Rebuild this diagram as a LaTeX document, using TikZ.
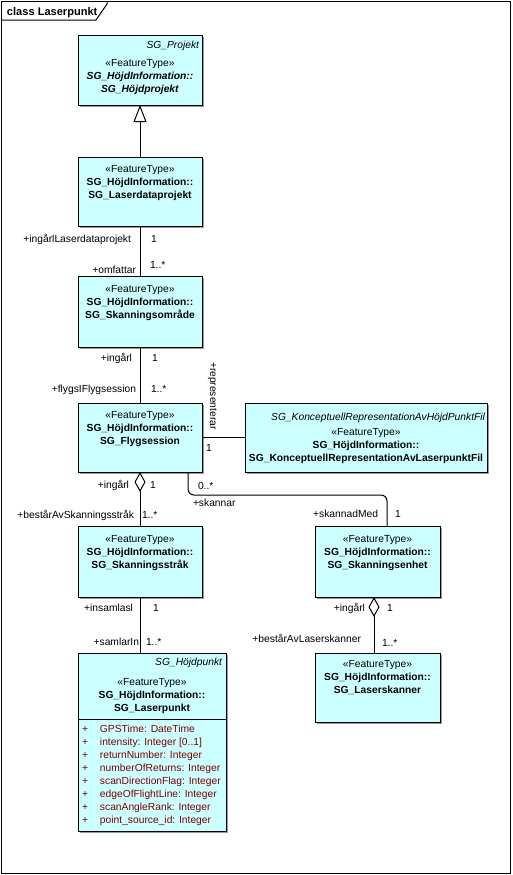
\documentclass[tikz,border=0pt]{standalone}
\usepackage{fontspec}
\setmainfont{Liberation Sans}
\usetikzlibrary{arrows.meta,fit,shadows}
\definecolor{clsfill}{RGB}{204,255,255}
\definecolor{attrcol}{RGB}{128,0,0}
\begin{document}
\begin{tikzpicture}[x=0.75pt,y=-0.75pt,
  every node/.style={font=\fontsize{7.7}{9.75}\selectfont, inner sep=0pt, outer sep=0pt},
  cls/.style={draw=black, line width=0.75pt, fill=clsfill, inner sep=0pt,
    drop shadow={shadow xshift=1.6pt, shadow yshift=-1.6pt, fill=black!40, opacity=1}},
  stereo/.style={align=center, anchor=north},
  absname/.style={anchor=base east, font=\fontsize{7.7}{9.75}\selectfont\itshape},
  lblr/.style={anchor=base east},
  lbll/.style={anchor=base west},
  conn/.style={draw=black, line width=0.75pt},
  gen/.style={-{Triangle[length=12.75pt,width=9.75pt,fill=white]}},
  agg/.style={{Diamond[length=15pt,width=8.25pt,fill=white]}-},
]
\useasboundingbox (0,0) rectangle (512,875);
\fill[white] (0,0) rectangle (512,875);
% frame
\draw[line width=0.75pt] (1,1) rectangle (510,873);
\draw[line width=0.75pt] (1,20) -- (96,20) -- (107,4) -- (107,1);
\node[lbll, font=\fontsize{8.3}{10}\selectfont\bfseries] (title) at (7,15) {class Laserpunkt};

% coordinates for boxes
\coordinate (hpA) at (78,35);   \coordinate (hpB) at (202,105);
\coordinate (ldpA) at (78,157); \coordinate (ldpB) at (202,226);
\coordinate (soA) at (78,276);  \coordinate (soB) at (202,347);
\coordinate (fsA) at (78,403);  \coordinate (fsB) at (202,472);
\coordinate (konA) at (245,403); \coordinate (konB) at (487,472);
\coordinate (strA) at (78,526); \coordinate (strB) at (202,597);
\coordinate (enhA) at (315,526); \coordinate (enhB) at (440,597);
\coordinate (lskA) at (315,653); \coordinate (lskB) at (440,722);
\coordinate (lpA) at (78,653);  \coordinate (lpB) at (226,831);

\node[cls, fit=(hpA)(hpB)] (hp) {};
\node[cls, fit=(ldpA)(ldpB)] (ldp) {};
\node[cls, fit=(soA)(soB)] (so) {};
\node[cls, fit=(fsA)(fsB)] (fs) {};
\node[cls, fit=(konA)(konB)] (kon) {};
\node[cls, fit=(strA)(strB)] (str) {};
\node[cls, fit=(enhA)(enhB)] (enh) {};
\node[cls, fit=(lskA)(lskB)] (lsk) {};
\node[cls, fit=(lpA)(lpB)] (lp) {};

% box texts
\node[absname] (hpabs) at (199,48.5) {SG\_Projekt};
\node[stereo] (hptxt) at (140,59) {«FeatureType»\\\textbf{\textit{SG\_HöjdInformation::}}\\\textbf{\textit{SG\_Höjdprojekt}}};
\node[stereo] (ldptxt) at (140,165) {«FeatureType»\\\textbf{SG\_HöjdInformation::}\\\textbf{SG\_Laserdataprojekt}};
\node[stereo] (sotxt) at (140,285.5) {«FeatureType»\\\textbf{SG\_HöjdInformation::}\\\textbf{SG\_Skanningsområde}};
\node[stereo] (fstxt) at (140,411) {«FeatureType»\\\textbf{SG\_HöjdInformation::}\\\textbf{SG\_Flygsession}};
\node[absname] (konabs) at (485,420.5) {SG\_KonceptuellRepresentationAvHöjdPunktFil};
\node[stereo] (kontxt) at (366,428) {«FeatureType»\\\textbf{SG\_HöjdInformation::}\\\textbf{SG\_KonceptuellRepresentationAvLaserpunktFil}};
\node[stereo] (strtxt) at (140,535) {«FeatureType»\\\textbf{SG\_HöjdInformation::}\\\textbf{SG\_Skanningsstråk}};
\node[stereo] (enhtxt) at (377.5,535) {«FeatureType»\\\textbf{SG\_HöjdInformation::}\\\textbf{SG\_Skanningsenhet}};
\node[stereo] (lsktxt) at (377.5,660) {«FeatureType»\\\textbf{SG\_HöjdInformation::}\\\textbf{SG\_Laserskanner}};
\node[absname] (lpabs) at (222,665.5) {SG\_Höjdpunkt};
\node[stereo] (lptxt) at (152,678) {«FeatureType»\\\textbf{SG\_HöjdInformation::}\\\textbf{SG\_Laserpunkt}};
\coordinate (divy) at (0,719);
\draw[line width=0.75pt] (lp.west |- divy) -- (lp.east |- divy);
\node[anchor=north west, align=left, text=attrcol] (lpattr) at (82,725)
  {\makebox[13.5pt][l]{+}GPSTime: DateTime\\
   \makebox[13.5pt][l]{+}intensity: Integer [0..1]\\
   \makebox[13.5pt][l]{+}returnNumber: Integer\\
   \makebox[13.5pt][l]{+}numberOfReturns: Integer\\
   \makebox[13.5pt][l]{+}scanDirectionFlag: Integer\\
   \makebox[13.5pt][l]{+}edgeOfFlightLine: Integer\\
   \makebox[13.5pt][l]{+}scanAngleRank: Integer\\
   \makebox[13.5pt][l]{+}point\_source\_id: Integer};

% connectors
\draw[conn, gen] (ldp.north) -- (hp.south);
\draw[conn] (ldp.south) -- (so.north);
\draw[conn] (so.south) -- (fs.north);
\draw[conn] (fs.east) -- (kon.west);
\draw[conn, agg] (fs.south) -- (str.north);
\coordinate (skx) at (188,0);
\coordinate (skbend) at (387,495);
\draw[conn, rounded corners=4.5pt] (fs.south -| skx) |- (skbend) -- (skbend |- enh.north);
\coordinate (enhx) at (374,0);
\draw[conn, agg] (enh.south -| enhx) -- (enhx |- lsk.north);
\draw[conn] (str.south) -- (str.south |- lp.north);

% role labels and multiplicities
\node[lblr] (l1) at (131,242.5) {+ingårlLaserdataprojekt};
\node[lbll] (m1) at (151,242.5) {1};
\node[lblr] (l2) at (136,273.5) {+omfattar};
\node[lbll] (m2) at (150,268.5) {1..*};
\node[lblr] (l3) at (132,361.5) {+ingårl};
\node[lbll] (m3) at (152,361.5) {1};
\node[lblr] (l4) at (136,392) {+flygsIFlygsession};
\node[lbll] (m4) at (151,392) {1..*};
\node[anchor=base west, rotate=-90] (l5) at (210,362) {+representerar};
\node[lbll] (m5) at (206,451.5) {1};
\node[lbll] (m6) at (198,489.5) {0..*};
\node[lbll] (l6) at (193,506.5) {+skannar};
\node[lblr] (l7) at (378,517.5) {+skannadMed};
\node[lbll] (m7) at (395,517.5) {1};
\node[lblr] (l8) at (129,488.5) {+ingårl};
\node[lbll] (m8) at (150,488.5) {1};
\node[lblr] (l9) at (134,518.5) {+bestårAvSkanningsstråk};
\node[lbll] (m9) at (142,518.5) {1..*};
\node[lblr] (l10) at (133,611.5) {+insamlasl};
\node[lbll] (m10) at (153,611.5) {1};
\node[lblr] (l11) at (139,645.5) {+samlarIn};
\node[lbll] (m11) at (146,645.5) {1..*};
\node[lblr] (l12) at (365,611.5) {+ingårl};
\node[lbll] (m12) at (387,611.5) {1};
\node[lblr] (l13) at (361,642.5) {+bestårAvLaserskanner};
\node[lbll] (m13) at (382,646.5) {1..*};
\end{tikzpicture}
\end{document}
